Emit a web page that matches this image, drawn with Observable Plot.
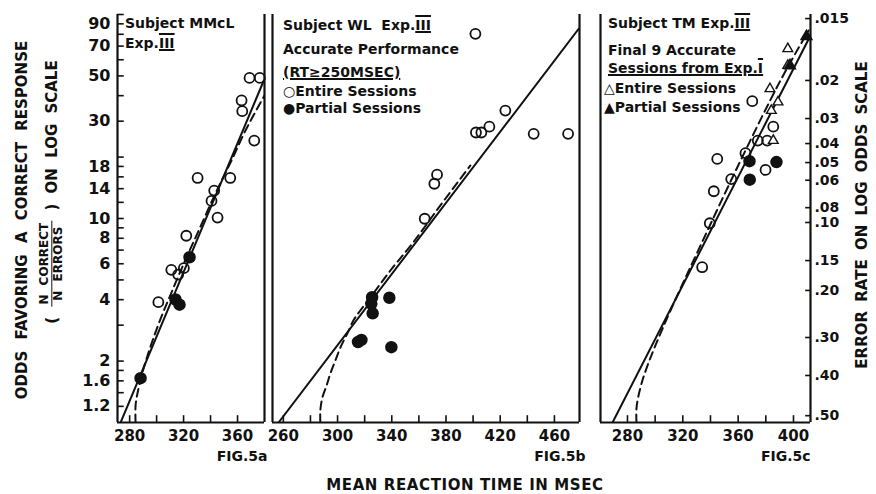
<!DOCTYPE html>
<html><head><meta charset="utf-8">
<script src="https://cdn.jsdelivr.net/npm/d3@7"></script>
<script src="https://cdn.jsdelivr.net/npm/@observablehq/plot@0.6"></script>
<style>
body{margin:0;background:#fff;}
#fig{position:relative;width:876px;height:494px;font-family:"DejaVu Sans",sans-serif;font-weight:bold;color:#111;overflow:hidden;}
.panel{position:absolute;top:0;}
.note{position:absolute;font-size:14px;line-height:1;white-space:nowrap;transform:translateY(-50%);}
.rot{position:absolute;white-space:nowrap;transform:translate(-50%,-50%) rotate(-90deg);}
.rn{text-decoration:underline overline;text-decoration-thickness:1.5px;}
.ul{text-decoration:underline;text-decoration-thickness:1.5px;}
.frac{display:inline-flex;flex-direction:column;vertical-align:middle;font-size:12px;text-align:center;line-height:1.1;}
.frac .num{border-bottom:1.5px solid #111;padding:0 2px;}
</style></head>
<body><div id="fig"></div>
<script>
// ---------- axis ticks ----------
const oddsTickMarks = [100,90,80,70,60,50,40,30,20,18,16,14,12,10,9,8,7,6,5,4,3,2,1.8,1.6,1.4,1.2];
const oddsTickLabels = [90,70,50,30,18,14,10,8,6,4,2,1.6,1.2];
// right-hand error-rate axis: labels and the odds level at which each tick sits in the figure
const errorRateLabels = [".015",".02",".03",".04",".05",".06",".08",".10",".15",".20",".30",".40",".50"];
const errorRateTickOdds = [95.5,47.5,30.9,23.3,18.8,15.4,11.3,9.56,6.22,4.44,2.61,1.70,1.08];

const aXLabels = [280,320,360];
const aXTicks = [280,300,320,340,360];
const bXLabels = [260,300,340,380,420,460];
const bXTicks = [260,280,300,320,340,360,380,400,420,440,460];
const cXLabels = [280,320,360,400];
const cXTicks = [280,300,320,340,360,380,400];

// ---------- Fig 5a: Subject MMcL ----------
const aOpenRT   = [368.9,376.5,363.0,363.5,372.4,330.4,354.6,342.7,340.7,345.2,322.0,310.9,316.0,320.2,301.3];
const aOpenOdds = [48.9,48.9,37.9,33.6,24.1,15.8,15.8,13.7,12.2,10.1,8.23,5.60,5.31,5.71,3.89];
const aFillRT   = [324.4,314.0,317.0,288.1];
const aFillOdds = [6.46,4.01,3.78,1.65];
const aSolidRT   = [273.3,379.5];
const aSolidOdds = [1.0,47.5];
const aDashRT   = [284.4,284.4,285.9,288.9,292.6,297.0,303.0,310.4,321.5,332.6,343.7,354.8,365.9,380.0];
const aDashOdds = [1.0,1.21,1.40,1.70,2.06,2.52,3.23,4.24,6.30,9.14,13.3,18.8,27.0,40.1];

// ---------- Fig 5b: Subject WL ----------
const bOpenRT   = [401.7,402.1,406.1,412.0,373.4,371.4,364.3,423.8,444.7,470.1];
const bOpenOdds = [80.4,26.4,26.4,28.2,16.4,14.8,9.97,33.8,26.0,26.0];
const bFillRT   = [325.5,324.9,325.9,338.2,317.6,315.1,339.7];
const bFillOdds = [4.11,3.82,3.43,4.09,2.54,2.48,2.34];
const bSolidRT   = [256.5,477.9];
const bSolidOdds = [1.0,85.1];
const bDashRT   = [287.3,287.3,288.8,291.9,294.7,298.4,302.1,307.2,311.7,316.8,324.2,339.0,355.2,375.9,398.0];
const bDashOdds = [1.0,1.145,1.326,1.518,1.739,2.013,2.332,2.731,3.162,3.54,4.10,5.56,7.54,11.6,18.2];

// ---------- Fig 5c: Subject TM ----------
const cOpenRT   = [370.2,344.9,342.4,339.5,334.0,355.0,365.3,374.2,381.0,379.8,385.4];
const cOpenOdds = [37.6,19.6,13.6,9.48,5.77,15.6,20.9,24.1,24.1,17.3,28.2];
const cFillRT   = [368.2,368.4,387.7];
const cFillOdds = [19.1,15.5,18.9];
const cTriRT    = [395.9,395.9,383.0,388.8,384.0,385.4];
const cTriOdds  = [67.9,56.2,43.2,37.2,33.8,24.1];
const cFTriRT   = [409.4,397.5];
const cFTriOdds = [78.0,56.2];
const cSolidRT   = [269.2,412.3];
const cSolidOdds = [1.0,78.9];
const cDashRT   = [286.5,286.5,288.0,290.8,294.5,300.2,311.1,332.8,361.7,390.6,410.9];
const cDashOdds = [1.0,1.171,1.356,1.607,1.903,2.385,3.54,7.37,19.2,47.5,83.5];

const ink = "#111";
const pts = (xs, ys) => xs.map((x, i) => ({x, y: ys[i]}));

function panel(o) {
  const [x0, x1] = o.xDomain;
  const y0 = 1, y1 = 100;
  const marks = [
    Plot.ruleX([x0, x1], {x: d => d, y1: y0, y2: y1, stroke: ink, strokeWidth: 2.2}),
    Plot.ruleY([y0], {y: d => d, stroke: ink, strokeWidth: 2.2}),
    Plot.ruleX(o.xTicks, {x: d => d, y1: y0, y2: y0 * 1.08, stroke: ink, strokeWidth: 1.6}),
    Plot.text(o.xLabels, {x: d => d, y: y0, dy: 14, text: d => String(d), fontSize: 15}),
    Plot.line(pts(o.solid[0], o.solid[1]), {x: "x", y: "y", stroke: ink, strokeWidth: 2, clip: true}),
    Plot.line(pts(o.dash[0], o.dash[1]), {x: "x", y: "y", stroke: ink, strokeWidth: 2, strokeDasharray: "8,5", curve: "catmull-rom", clip: true}),
    Plot.dot(pts(o.open[0], o.open[1]), {x: "x", y: "y", r: 5, stroke: ink, strokeWidth: 1.8, fill: "none"}),
    Plot.dot(pts(o.fill[0], o.fill[1]), {x: "x", y: "y", r: 5.5, fill: ink, stroke: ink})
  ];
  if (o.tri) marks.push(Plot.dot(pts(o.tri[0], o.tri[1]), {x: "x", y: "y", symbol: "triangle", r: 3.6, stroke: ink, strokeWidth: 1.4, fill: "white"}));
  if (o.ftri) marks.push(Plot.dot(pts(o.ftri[0], o.ftri[1]), {x: "x", y: "y", symbol: "triangle", r: 4, fill: ink, stroke: ink}));
  if (o.leftAxis) {
    marks.push(Plot.ruleY(oddsTickMarks, {y: d => d, x1: x0, x2: x0 + 5, stroke: ink, strokeWidth: 1.6}));
    marks.push(Plot.text(oddsTickLabels, {x: x0, y: d => d, dx: -7, textAnchor: "end", text: d => String(d), fontSize: 16}));
  }
  if (o.rightAxis) {
    const ticks = errorRateTickOdds.map((v, i) => ({odds: v, label: errorRateLabels[i]}));
    marks.push(Plot.ruleY(ticks, {y: "odds", x1: x1 - 3.5, x2: x1, stroke: ink, strokeWidth: 1.6}));
    marks.push(Plot.text(ticks, {x: x1, y: "odds", dx: 4, textAnchor: "start", text: "label", fontSize: 14}));
  }
  marks.push(Plot.text([o.fig], {frameAnchor: "bottom-right", dy: 38, dx: o.figDx, textAnchor: "end", fontSize: 14}));
  return Plot.plot({
    width: o.width, height: 494,
    marginLeft: o.mL, marginRight: o.mR, marginTop: 14, marginBottom: 72,
    x: {domain: o.xDomain, axis: null},
    y: {type: "log", domain: [y0, y1], axis: null},
    style: {fontFamily: "DejaVu Sans, sans-serif", fontSize: "15px", fontWeight: "bold", color: ink, background: "transparent", overflow: "visible"},
    marks
  });
}

const fig = document.getElementById("fig");
function place(svg, left) {
  svg.classList.add("panel");
  svg.style.position = "absolute";
  svg.style.left = left + "px";
  svg.style.top = "0px";
  fig.appendChild(svg);
}

place(panel({xDomain: [271, 380], width: 268, mL: 117, mR: 4, xTicks: aXTicks, xLabels: aXLabels,
  open: [aOpenRT, aOpenOdds], fill: [aFillRT, aFillOdds], solid: [aSolidRT, aSolidOdds], dash: [aDashRT, aDashOdds],
  leftAxis: true, fig: "FIG.5a", figDx: 3}), 0);
place(panel({xDomain: [252, 478.5], width: 317, mL: 6, mR: 4, xTicks: bXTicks, xLabels: bXLabels,
  open: [bOpenRT, bOpenOdds], fill: [bFillRT, bFillOdds], solid: [bSolidRT, bSolidOdds], dash: [bDashRT, bDashOdds],
  fig: "FIG.5b", figDx: 6}), 266);
place(panel({xDomain: [260.5, 412.3], width: 286, mL: 10, mR: 66, xTicks: cXTicks, xLabels: cXLabels,
  open: [cOpenRT, cOpenOdds], fill: [cFillRT, cFillOdds], tri: [cTriRT, cTriOdds], ftri: [cFTriRT, cFTriOdds],
  solid: [cSolidRT, cSolidOdds], dash: [cDashRT, cDashOdds], rightAxis: true, fig: "FIG.5c", figDx: 0}), 590);

// ---------- text overlays ----------
const html = `
<div class="note" style="left:125px;top:23px">Subject MMcL</div>
<div class="note" style="left:125px;top:43px">Exp.<span class="rn">III</span></div>
<div class="note" style="left:283px;top:25px">Subject WL&nbsp; Exp.<span class="rn">III</span></div>
<div class="note" style="left:283px;top:49px">Accurate Performance</div>
<div class="note" style="left:283px;top:72px"><span class="ul">(RT≥250MSEC)</span></div>
<div class="note" style="left:283px;top:91px">○Entire Sessions</div>
<div class="note" style="left:283px;top:108px">●Partial Sessions</div>
<div class="note" style="left:608px;top:23px">Subject TM Exp.<span class="rn">III</span></div>
<div class="note" style="left:608px;top:50px">Final 9 Accurate</div>
<div class="note" style="left:608px;top:68px"><span class="ul">Sessions from Exp.<span class="rn">I</span></span></div>
<div class="note" style="left:604px;top:88px">△Entire Sessions</div>
<div class="note" style="left:604px;top:107px">▲Partial Sessions</div>
<div class="rot" style="left:22px;top:220px;font-size:15px;word-spacing:6px">ODDS FAVORING A CORRECT RESPONSE</div>
<div class="rot" style="left:52px;top:192px;font-size:15px;word-spacing:5px">( <span class="frac"><span class="num">N CORRECT</span><span>N ERRORS</span></span> ) ON LOG SCALE</div>
<div class="rot" style="left:862px;top:215px;font-size:15px;word-spacing:4px">ERROR RATE ON LOG ODDS SCALE</div>
<div class="note" style="left:465px;top:485px;font-size:15px;letter-spacing:0.6px;transform:translate(-50%,-50%)">MEAN REACTION TIME IN MSEC</div>
`;
fig.insertAdjacentHTML("beforeend", html);
</script>
</body></html>
